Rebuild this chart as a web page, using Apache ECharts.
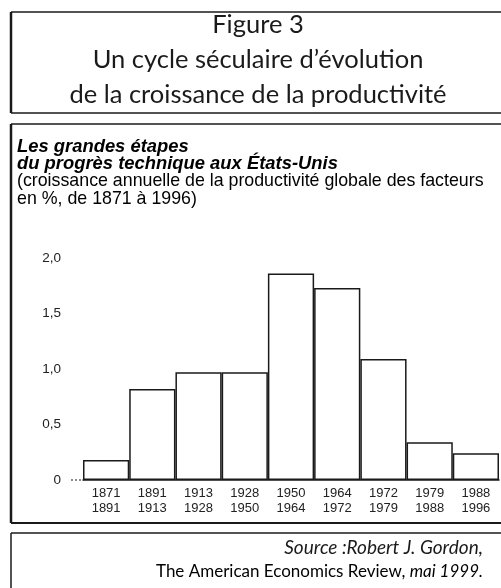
<!DOCTYPE html>
<html>
<head>
    <meta charset="utf-8">
    <title>Figure 3</title>
    <script src="https://cdn.jsdelivr.net/npm/echarts@6/dist/echarts.min.js"></script>
    <style>
        html, body { margin: 0; padding: 0; background: #fff; }
    </style>
</head>
<body>
    <div id="main" style="width: 501px;height:588px;"></div>
    <script type="text/javascript">
        // périodes (début / fin) et croissance annuelle de la PGF en %
        var startYears = ['1871', '1891', '1913', '1928', '1950', '1964', '1972', '1979', '1988'];
        var endYears   = ['1891', '1913', '1928', '1950', '1964', '1972', '1979', '1988', '1996'];
        var growth     = [0.18, 0.82, 0.97, 0.97, 1.86, 1.73, 1.09, 0.34, 0.24];
        var yTickLabels = ['0', '0,5', '1,0', '1,5', '2,0'];

        var titleLines = ['Figure 3', 'Un cycle séculaire d\u2019évolution', 'de la croissance de la productivité'];
        var subTitleBold = ['Les grandes étapes', 'du progrès technique aux États-Unis'];
        var subTitleNote = ['(croissance annuelle de la productivité globale des facteurs', 'en %, de 1871 à 1996)'];

        var categories = startYears.map(function (s, i) { return s + '\n' + endYears[i]; });

        var ink = '#1a1a1a';
        var humanist = 'Lato';
        var arial = '"Liberation Sans", Arial, sans-serif';

        function hline(x1, x2, y, w) {
            return { type: 'line', shape: { x1: x1, y1: y, x2: x2, y2: y }, style: { stroke: ink, lineWidth: w } };
        }
        function vline(x, y1, y2, w) {
            return { type: 'line', shape: { x1: x, y1: y1, x2: x, y2: y2 }, style: { stroke: ink, lineWidth: w } };
        }

        var graphics = [
            // cadres
            hline(11, 501, 12, 1.5), vline(11, 12, 113, 2.5), hline(11, 501, 113, 1.5),
            hline(11, 501, 124, 1.5), vline(11, 124, 523, 2.5), hline(11, 501, 523, 2),
            hline(11, 501, 533, 1.5), vline(11, 533, 588, 1.5),
            // petit bout d'axe à gauche
            { type: 'line', shape: { x1: 71, y1: 480, x2: 84, y2: 480 },
              style: { stroke: ink, lineWidth: 1, lineDash: [2, 2] } }
        ];

        titleLines.forEach(function (t, i) {
            graphics.push({
                type: 'text', x: 258, y: 25 + i * 35,
                style: { text: t, fill: ink, font: '25.5px ' + humanist, textAlign: 'center', textVerticalAlign: 'middle' }
            });
        });
        subTitleBold.forEach(function (t, i) {
            graphics.push({
                type: 'text', x: 17, y: 147 + i * 17.2,
                style: { text: t, fill: '#000', font: 'italic bold 18.4px ' + arial, textAlign: 'left', textVerticalAlign: 'middle' }
            });
        });
        subTitleNote.forEach(function (t, i) {
            graphics.push({
                type: 'text', x: 17, y: 181.5 + i * 17.2,
                style: { text: t, fill: '#000', font: '17.8px ' + arial, textAlign: 'left', textVerticalAlign: 'middle' }
            });
        });
        graphics.push({
            type: 'text', x: 483, y: 548,
            style: { text: 'Source :Robert J. Gordon,', fill: ink, font: 'italic 19px ' + humanist,
                     textAlign: 'right', textVerticalAlign: 'middle' }
        });
        graphics.push({
            type: 'text', x: 483, y: 572,
            style: {
                text: '{r|The American Economics Review, }{i|mai 1999.}',
                textAlign: 'right', textVerticalAlign: 'middle',
                rich: {
                    r: { fontFamily: humanist, fontSize: 17, color: ink },
                    i: { fontFamily: humanist, fontSize: 17, fontStyle: 'italic', color: ink }
                }
            }
        });

        var myChart = echarts.init(document.getElementById('main'));

        var option = {
            animation: false,
            backgroundColor: '#fff',
            grid: { left: 83, right: 2, top: 258, bottom: 108 },
            xAxis: {
                type: 'category',
                data: categories,
                axisLine: { show: true, lineStyle: { color: ink, width: 1.5 } },
                axisTick: { show: false },
                axisLabel: {
                    margin: 6, fontSize: 13, lineHeight: 15, color: '#222',
                    fontFamily: arial
                }
            },
            yAxis: {
                type: 'value',
                min: 0, max: 2, interval: 0.5,
                axisLine: { show: false },
                axisTick: { show: false },
                splitLine: { show: false },
                axisLabel: {
                    margin: 22, fontSize: 13.5, color: '#222', fontFamily: arial,
                    padding: [0, 0, 8, 0],
                    formatter: function (v) { return yTickLabels[Math.round(v / 0.5)]; }
                }
            },
            series: [{
                type: 'bar',
                data: growth,
                barCategoryGap: '0%',
                itemStyle: { color: '#fff', borderColor: ink, borderWidth: 1.5 }
            }],
            graphic: graphics
        };

        myChart.setOption(option);
    </script>
</body>
</html>
